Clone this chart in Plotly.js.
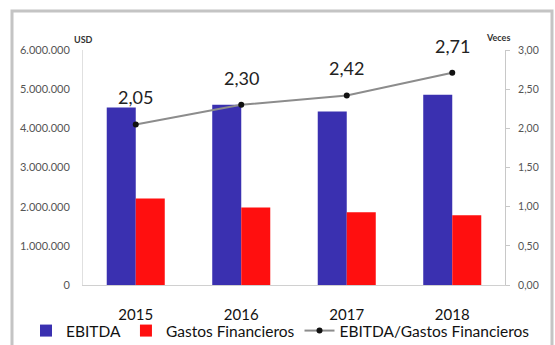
<!DOCTYPE html>
<html><head><meta charset="utf-8">
<script src="https://cdn.plot.ly/plotly-3.0.1.min.js"></script>
<style>html,body{margin:0;padding:0;background:#fff;}#c{width:555px;height:345px;}</style>
</head><body><div id="c"></div>
<script>
const years = ["2015","2016","2017","2018"];
const ebitda = [4530000, 4600000, 4430000, 4860000];
const gastos = [2210000, 1980000, 1860000, 1780000];
const ratio = [2.05, 2.30, 2.42, 2.71];
const ratioLabels = ["2,05","2,30","2,42","2,71"];
const leftTicks = [0,1000000,2000000,3000000,4000000,5000000,6000000];
const rightTicks = [0,0.5,1,1.5,2,2.5,3];

const fontFam = "Lato, 'Open Sans', sans-serif";
const data = [
  {type:"bar", name:"EBITDA", x:years, y:ebitda, marker:{color:"#3a30b0"}, yaxis:"y"},
  {type:"bar", name:"Gastos Financieros", x:years, y:gastos, marker:{color:"#ff0f0f"}, yaxis:"y"},
  {type:"scatter", mode:"lines+markers", name:"EBITDA/Gastos Financieros", x:years, y:ratio, yaxis:"y2",
   line:{color:"#8c8c8c", width:2}, marker:{color:"#111", size:6}}
];
const ann = ratioLabels.map((t,i)=>({x:i, y:ratio[i], xref:"x", yref:"y2", text:t, showarrow:false,
  yshift:27, font:{family:fontFam, size:18, color:"#222"}}));
ann.push({xref:"paper", yref:"paper", x:(72-83)/422, y:(285-32)/235, text:"<b>USD</b>", showarrow:false,
  font:{family:fontFam, size:9, color:"#333"}});
ann.push({xref:"paper", yref:"paper", x:(512-83)/422, y:(285-30)/235, text:"<b>Veces</b>", showarrow:false,
  font:{family:fontFam, size:9, color:"#333"}});

const layout = {
  width:555, height:345,
  margin:{l:83, r:50, t:50, b:60, autoexpand:false},
  separators:",.",
  paper_bgcolor:"#fff", plot_bgcolor:"#fff",
  barmode:"group", bargap:0.45, bargroupgap:0,
  showlegend:true,
  legend:{orientation:"h", x:(26-83)/422, xanchor:"left", y:-(331-285)/235, yanchor:"middle",
    font:{family:fontFam, size:15.5, color:"#111"}, itemwidth:30, tracegroupgap:0, bgcolor:"rgba(0,0,0,0)"},
  xaxis:{type:"category", showgrid:false, showline:true, linecolor:"#d0d0d0", linewidth:1,
    ticks:"", ticklabelstandoff:16, tickfont:{family:fontFam, size:15, color:"#111"}},
  yaxis:{range:[0,6000000], tickvals:leftTicks, tickformat:",d", showgrid:false, zeroline:false,
    showline:true, linecolor:"#e0e0e0", ticks:"", ticklabelstandoff:10,
    tickfont:{family:fontFam, size:11, color:"#555"}},
  yaxis2:{overlaying:"y", side:"right", range:[0,3], tickvals:rightTicks, tickformat:".2f",
    showgrid:false, zeroline:false, showline:true, linecolor:"#c8c8c8", ticks:"outside", ticklen:4,
    tickcolor:"#c8c8c8", ticklabelstandoff:6, tickfont:{family:fontFam, size:10.5, color:"#555"}},
  annotations:ann,
  shapes:[{type:"rect", xref:"paper", yref:"paper", x0:(12-83)/422, x1:(552-83)/422, y0:-0.4, y1:(285-11)/235,
    line:{color:"#c4c4c4", width:3}, layer:"below"}]
};
Plotly.newPlot("c", data, layout, {staticPlot:true});
</script></body></html>
